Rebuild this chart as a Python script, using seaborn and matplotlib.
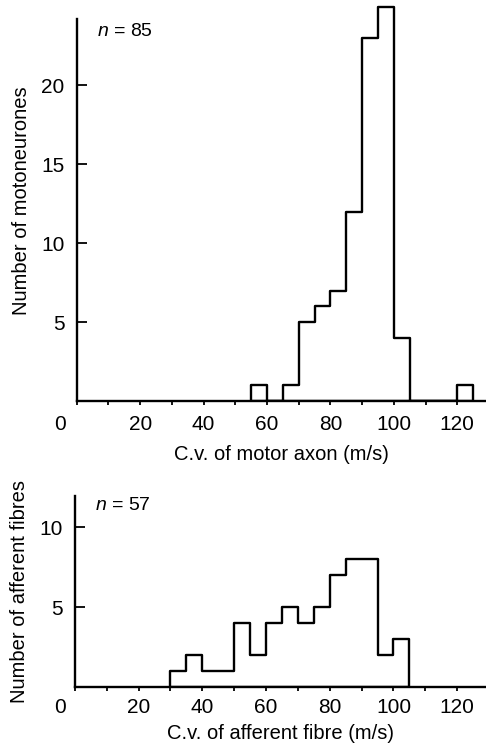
import matplotlib
matplotlib.use("Agg")
import matplotlib.pyplot as plt
import matplotlib.transforms as mtransforms
import seaborn as sns

# conduction velocity histograms, 5 m/s bins (left edges) and counts
bin_width = 5
motor_bins = [55, 60, 65, 70, 75, 80, 85, 90, 95, 100, 105, 110, 115, 120]
motor_counts = [1, 0, 1, 5, 6, 7, 12, 23, 25, 4, 0, 0, 0, 1]

afferent_bins = [30, 35, 40, 45, 50, 55, 60, 65, 70, 75, 80, 85, 90, 95, 100]
afferent_counts = [1, 2, 1, 1, 4, 2, 4, 5, 4, 5, 7, 8, 8, 2, 3]

x_ticks = [0, 20, 40, 60, 80, 100, 120]
x_minor = [10, 30, 50, 70, 90, 110]
motor_yticks = [5, 10, 15, 20]
afferent_yticks = [5, 10]

sns.set_style("ticks")
plt.rcParams["font.family"] = ["Liberation Sans", "DejaVu Sans"]
plt.rcParams["mathtext.fontset"] = "custom"
plt.rcParams["mathtext.it"] = "Liberation Sans:italic"
plt.rcParams["mathtext.rm"] = "Liberation Sans"
plt.rcParams["text.color"] = "black"
plt.rcParams["axes.labelcolor"] = "black"
plt.rcParams["xtick.color"] = "black"
plt.rcParams["ytick.color"] = "black"
plt.rcParams["axes.edgecolor"] = "black"

fig = plt.figure(figsize=(4.86, 7.45), dpi=100)
ax1 = fig.add_axes([0.158, 0.4617, 0.8416, 0.538])
ax2 = fig.add_axes([0.154, 0.0779, 0.8457, 0.2564])


def draw_hist(ax, bins, counts, yticks, ytop, spine_top, ylabel, xlabel, n_text,
              zero_shift, tick_pad, label_pad):
    centers = [b + bin_width / 2 for b in bins]
    edges = bins + [bins[-1] + bin_width]
    sns.histplot(x=centers, weights=counts, bins=edges, element="step", fill=True,
                 facecolor="white", edgecolor="black", linewidth=1.7, ax=ax)
    ax.set_xlim(0, 129)
    ax.set_ylim(0, ytop)
    ax.spines["top"].set_visible(False)
    ax.spines["right"].set_visible(False)
    for s in ["left", "bottom"]:
        ax.spines[s].set_linewidth(1.7)
    ax.spines["left"].set_bounds(0, spine_top)

    ax.set_xticks(x_ticks)
    ax.set_xticks(x_minor, minor=True)
    ax.set_yticks(yticks)
    ax.tick_params(axis="x", which="both", direction="out", length=3, width=1.3,
                   labelsize=15, pad=tick_pad)
    ax.tick_params(axis="y", direction="in", length=7, width=1.3, labelsize=15, pad=9)
    # the "0" label sits left of the axis corner
    lab0 = ax.get_xticklabels()[0]
    lab0.set_transform(lab0.get_transform() +
                       mtransforms.ScaledTranslation(zero_shift / 72, 0, fig.dpi_scale_trans))

    ax.set_xlabel(xlabel, fontsize=14.5, labelpad=label_pad)
    ax.set_ylabel(ylabel, fontsize=14.5, labelpad=7)
    ax.text(0.05, n_text[1], n_text[0], transform=ax.transAxes, fontsize=14,
            ha="left", va="center")


draw_hist(ax1, motor_bins, motor_counts, motor_yticks, 25.4, 24.2,
          "Number of motoneurones", "C.v. of motor axon (m/s)",
          ("$n$ = 85", 0.923), -12, 7, 8)
draw_hist(ax2, afferent_bins, afferent_counts, afferent_yticks, 11.95, 11.95,
          "Number of afferent fibres", "C.v. of afferent fibre (m/s)",
          ("$n$ = 57", 0.948), -11, 5, 5)

fig.savefig("out.png", dpi=100)
